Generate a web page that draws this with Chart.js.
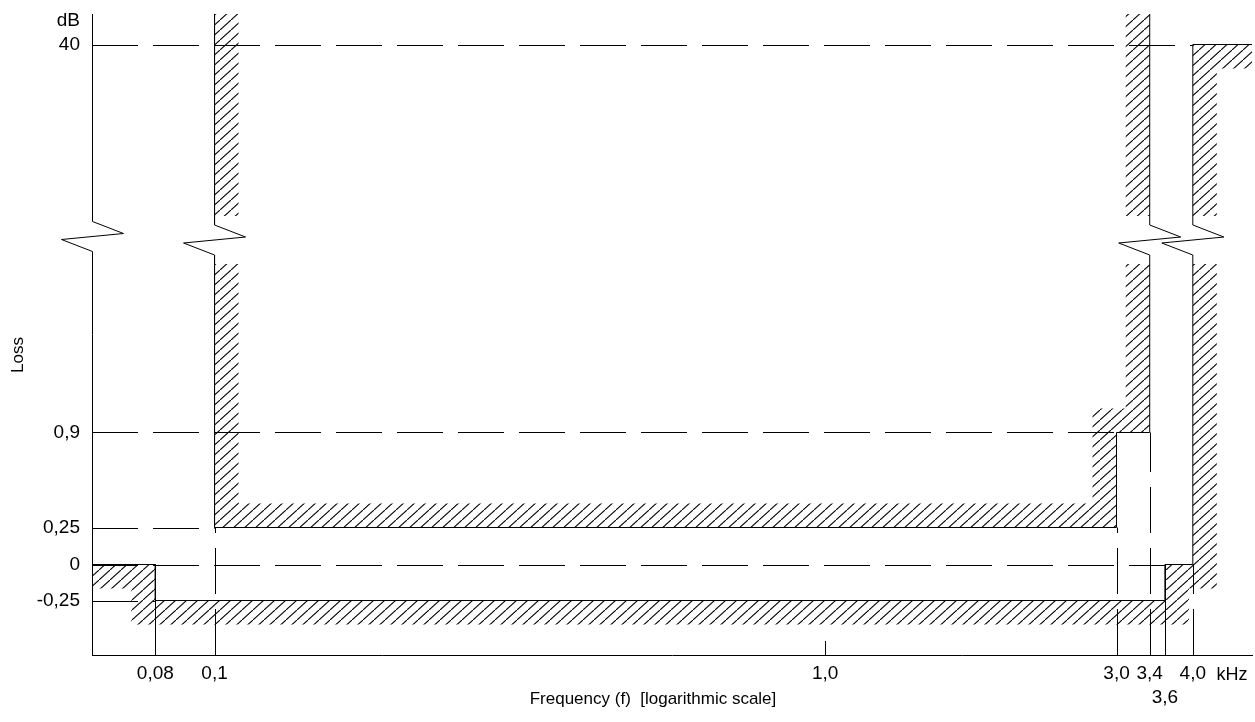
<!DOCTYPE html>
<html>
<head>
<meta charset="utf-8">
<title>Loss mask</title>
<script src="https://cdn.jsdelivr.net/npm/chart.js@4.4.1/dist/chart.umd.min.js"></script>
<style>
  html, body { margin: 0; padding: 0; background: #fff; }
  canvas { display: block; }
</style>
</head>
<body>
<canvas id="maskChart" width="1255" height="722"></canvas>
<script>
'use strict';

const FREQ_MIN = 0.063;
const FREQ_MAX = 5.0;

// frequency ticks (kHz)
const freqTicks = [0.08, 0.1, 1.0, 3.0, 3.4, 3.6, 4.0];
const freqLabels = ['0,08', '0,1', '1,0', '3,0', '3,4', '3,6', '4,0'];

// loss ticks (dB)
const lossTicks = [-0.25, 0, 0.25, 0.9, 40];
const lossLabels = ['-0,25', '0', '0,25', '0,9', '40'];

// upper limit, 'top' means it runs off the top of the axis
const upperFreq = [0.1, 0.1, 3.0, 3.0, 3.4, 3.4];
const upperLoss = ['top', 0.25, 0.25, 0.9, 0.9, 'top'];

// lower limit
const lowerFreq = [FREQ_MIN, 0.08, 0.08, 3.6, 3.6, 4.0, 4.0, FREQ_MAX];
const lowerLoss = [0, 0, -0.25, -0.25, 0, 0, 40, 40];

// the loss axis is not linear (it is broken between 0,9 and 40),
// so every tick gets its own step on the y scale
const lossSteps = [54.5, 90.5, 127.5, 222.5, 610.5];
const AXIS_TOP = 641;
const BREAK_STEP = 417;

function lossToAxis(v) {
  if (v === 'top') return AXIS_TOP;
  let i = 1;
  while (i < lossTicks.length - 1 && v > lossTicks[i]) i++;
  const t = (v - lossTicks[i - 1]) / (lossTicks[i] - lossTicks[i - 1]);
  return lossSteps[i - 1] + t * (lossSteps[i] - lossSteps[i - 1]);
}

function toPoints(freqs, losses) {
  return freqs.map((f, i) => ({x: f, y: lossToAxis(losses[i])}));
}

Chart.defaults.font.family = "'Liberation Sans', Arial, sans-serif";
Chart.defaults.color = '#000';

let hatch = null;
function hatchPattern(ctx) {
  if (hatch) return hatch;
  const w = 11, h = 10;
  const tile = document.createElement('canvas');
  tile.width = w;
  tile.height = h;
  const t = tile.getContext('2d');
  t.strokeStyle = '#000';
  t.lineWidth = 1.1;
  t.beginPath();
  t.moveTo(-w, 2 * h);
  t.lineTo(2 * w, -h);
  t.stroke();
  hatch = ctx.createPattern(tile, 'repeat');
  return hatch;
}

// band of fixed width along one side of a polyline
function fillBand(ctx, pts, side, width) {
  const normals = [];
  for (let i = 0; i < pts.length - 1; i++) {
    const dx = pts[i + 1].x - pts[i].x;
    const dy = pts[i + 1].y - pts[i].y;
    const len = Math.hypot(dx, dy) || 1;
    normals.push({x: -dy / len * side, y: dx / len * side});
  }
  const off = pts.map((p, i) => {
    let ox = 0, oy = 0;
    if (normals[i - 1]) { ox += normals[i - 1].x; oy += normals[i - 1].y; }
    if (normals[i]) { ox += normals[i].x; oy += normals[i].y; }
    return {x: p.x + ox * width, y: p.y + oy * width};
  });
  ctx.beginPath();
  pts.forEach((p, i) => i ? ctx.lineTo(p.x, p.y) : ctx.moveTo(p.x, p.y));
  for (let i = off.length - 1; i >= 0; i--) ctx.lineTo(off[i].x, off[i].y);
  ctx.closePath();
  ctx.fill();
}

function drawBreak(ctx, px, yc) {
  ctx.beginPath();
  ctx.moveTo(px, yc - 13);
  ctx.lineTo(px + 31, yc - 1);
  ctx.lineTo(px - 31, yc + 5);
  ctx.lineTo(px, yc + 17);
  ctx.stroke();
}

const maskPlugin = {
  id: 'maskPlugin',
  beforeDatasetsDraw(chart) {
    const {ctx, chartArea: area, scales: {x, y}} = chart;
    const px = (f, v) => ({x: x.getPixelForValue(f), y: y.getPixelForValue(lossToAxis(v))});
    const yBreak = y.getPixelForValue(BREAK_STEP);

    // hatching, left open where the axis is broken
    ctx.save();
    ctx.beginPath();
    ctx.rect(area.left, area.top, area.width, yBreak - 22 - area.top);
    ctx.rect(area.left, yBreak + 26, area.width, area.bottom - yBreak - 26);
    ctx.clip();
    ctx.fillStyle = hatchPattern(ctx);
    fillBand(ctx, upperFreq.map((f, i) => px(f, upperLoss[i])), -1, 24);
    fillBand(ctx, lowerFreq.map((f, i) => px(f, lowerLoss[i])), 1, 24);
    ctx.restore();

    // dashed reference lines
    ctx.save();
    ctx.strokeStyle = '#000';
    ctx.lineWidth = 1;
    ctx.setLineDash([46, 15]);
    const hEnds = [0.08, 3.6, 0.1, 3.0, 4.0];
    lossTicks.forEach((v, i) => {
      const yy = Math.round(y.getPixelForValue(lossToAxis(v))) + 0.5;
      ctx.beginPath();
      ctx.moveTo(area.left, yy);
      ctx.lineTo(x.getPixelForValue(hEnds[i]), yy);
      ctx.stroke();
    });
    const vTops = {0.1: 0.25, 3.0: 0.25, 3.4: 0.9, 4.0: 0};
    Object.keys(vTops).forEach(f => {
      const xx = Math.round(x.getPixelForValue(+f)) + 0.5;
      ctx.beginPath();
      ctx.moveTo(xx, area.bottom);
      ctx.lineTo(xx, y.getPixelForValue(lossToAxis(vTops[f])));
      ctx.stroke();
    });
    ctx.setLineDash([]);
    [0.08, 3.6].forEach(f => {
      const xx = Math.round(x.getPixelForValue(f)) + 0.5;
      ctx.beginPath();
      ctx.moveTo(xx, area.bottom);
      ctx.lineTo(xx, y.getPixelForValue(lossToAxis(0)));
      ctx.stroke();
    });
    const x1 = Math.round(x.getPixelForValue(1.0)) + 0.5;
    ctx.beginPath();
    ctx.moveTo(x1, area.bottom);
    ctx.lineTo(x1, area.bottom - 14);
    ctx.stroke();
    ctx.restore();
  },
  afterDatasetsDraw(chart) {
    const {ctx, chartArea: area, scales: {x, y}} = chart;
    const yBreak = y.getPixelForValue(BREAK_STEP);
    const axisX = Math.round(area.left) + 0.5;
    ctx.save();
    ctx.strokeStyle = '#000';
    ctx.lineWidth = 1;
    ctx.beginPath();
    ctx.moveTo(axisX, area.top);
    ctx.lineTo(axisX, area.bottom);
    ctx.stroke();

    const breaks = [{x: axisX, yc: yBreak - 3.5}];
    [0.1, 3.4, 4.0].forEach(f => breaks.push({x: x.getPixelForValue(f), yc: yBreak}));
    ctx.fillStyle = '#fff';
    breaks.forEach(b => ctx.fillRect(b.x - 2, b.yc - 13, 4, 30));
    breaks.forEach(b => drawBreak(ctx, b.x, b.yc));

    ctx.fillStyle = '#000';
    ctx.textBaseline = 'middle';
    ctx.font = "19px 'Liberation Sans', Arial, sans-serif";
    ctx.textAlign = 'right';
    ctx.fillText('dB', 80, 21);
    ctx.textAlign = 'center';
    ctx.font = "18px 'Liberation Sans', Arial, sans-serif";
    ctx.fillText('kHz', 1232, 675);
    ctx.font = "17px 'Liberation Sans', Arial, sans-serif";
    ctx.fillText('Frequency (f)  [logarithmic scale]', 653, 699);
    ctx.translate(18, 355);
    ctx.rotate(-Math.PI / 2);
    ctx.fillText('Loss', 0, 0);
    ctx.restore();
  }
};

const lowerRowLabels = ['3,6'];

new Chart(document.getElementById('maskChart'), {
  type: 'line',
  data: {
    datasets: [{
      label: 'Upper limit',
      data: toPoints(upperFreq, upperLoss),
      borderColor: '#000',
      borderWidth: 1,
      pointRadius: 0,
      fill: false,
      tension: 0,
    }, {
      label: 'Lower limit',
      data: toPoints(lowerFreq, lowerLoss),
      borderColor: '#000',
      borderWidth: 1,
      pointRadius: 0,
      fill: false,
      tension: 0,
    }]
  },
  options: {
    responsive: false,
    animation: false,
    events: [],
    layout: {
      padding: {top: 14, right: 3, left: 0, bottom: 0},
    },
    plugins: {
      legend: {display: false},
      tooltip: {enabled: false},
    },
    scales: {
      x: {
        type: 'logarithmic',
        min: FREQ_MIN,
        max: FREQ_MAX,
        grid: {display: false, drawTicks: false},
        border: {display: true, color: '#000', width: 1},
        afterBuildTicks: scale => { scale.ticks = freqTicks.map(v => ({value: v})); },
        afterFit: scale => {
          scale.height = 67;
          scale.paddingLeft = 0;
          scale.paddingRight = 0;
        },
        ticks: {
          autoSkip: false,
          maxRotation: 0,
          padding: 6,
          font: {size: 19, lineHeight: 1.3},
          callback: (value, index) => {
            const label = freqLabels[index];
            return lowerRowLabels.includes(label) ? ['', label] : label;
          }
        }
      },
      y: {
        type: 'linear',
        min: 0,
        max: AXIS_TOP,
        grid: {display: false, drawTicks: false},
        border: {display: false},
        afterBuildTicks: scale => { scale.ticks = lossTicks.map(v => ({value: lossToAxis(v)})); },
        afterFit: scale => {
          scale.width = 92;
          scale.paddingTop = 0;
          scale.paddingBottom = 0;
        },
        ticks: {
          padding: 12,
          font: {size: 19},
          callback: (value, index) => lossLabels[index]
        }
      }
    }
  },
  plugins: [maskPlugin]
});
</script>
</body>
</html>
